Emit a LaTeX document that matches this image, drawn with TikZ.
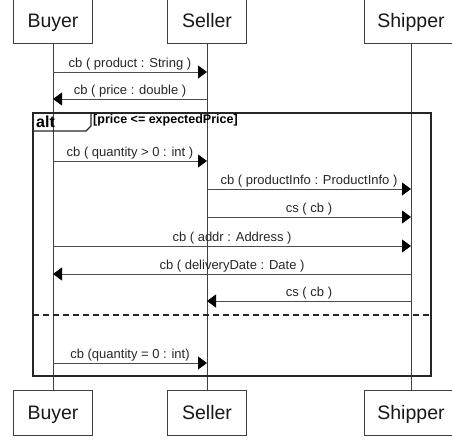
\documentclass[tikz,border=0pt]{standalone}
\usepackage{fontspec}
\setmainfont{Liberation Sans}
\usetikzlibrary{arrows.meta}
\begin{document}
\begin{tikzpicture}[x=1pt,y=-1pt,
  part/.style={draw=black!75, line width=0.8pt, minimum width=79pt, minimum height=44pt, font=\fontsize{19.5}{22}\selectfont, inner sep=0pt, text=black!90, text height=18pt, text depth=4pt},
  life/.style={draw=black!75, line width=0.8pt},
  msg/.style={draw=black!70, line width=0.8pt, -{Triangle[length=9pt,width=13pt,color=black]}},
  lbl/.style={font=\fontsize{13}{15}\selectfont, above, inner sep=1pt, text=black!85},
  frame/.style={draw=black!85, line width=1.8pt}
]
\useasboundingbox (0,0) rectangle (452,441);
% participants
\node[part] (buyerT) at (53,21) {Buyer};
\node[part] (sellerT) at (207,21) {Seller};
\node[part, minimum width=94pt] (shipperT) at (411,21) {Shipper};
\node[part, minimum height=45pt] (buyerB) at (53,412.5) {Buyer};
\node[part, minimum height=45pt] (sellerB) at (207,412.5) {Seller};
\node[part, minimum width=94pt, minimum height=45pt] (shipperB) at (411,412.5) {Shipper};
% lifelines
\draw[life] (buyerT) -- (buyerB);
\draw[life] (sellerT) -- (sellerB);
\draw[life] (shipperT) -- (shipperB);
% alt frame
\draw[frame] (33,113) rectangle (431,376);
\draw[frame, line width=1.4pt] (33,131) -- (86,131) -- (91,126) -- (91,113);
\node[font=\bfseries\fontsize{16}{18}\selectfont, anchor=base west, inner sep=0pt] (altlbl) at (36,128) {alt};
\node[font=\bfseries\fontsize{12.5}{14}\selectfont, anchor=base west, inner sep=0pt] (guard) at (93,124) {[price <= expectedPrice]};
\draw[frame, dashed, dash pattern=on 6pt off 4pt] (33,315) -- (431,315);
% message endpoints
\foreach \n/\y in {1/72,2/99,3/161,4/189,5/217,6/246,7/274,8/301,9/363}{
  \coordinate (b\n) at (53,\y);
  \coordinate (s\n) at (207,\y);
  \coordinate (h\n) at (411,\y);
}
\draw[msg] (b1) -- node[lbl] {cb ( product : String )} (s1);
\draw[msg] (s2) -- node[lbl] {cb ( price : double )} (b2);
\draw[msg] (b3) -- node[lbl] {cb ( quantity > 0 : int )} (s3);
\draw[msg] (s4) -- node[lbl] {cb ( productInfo : ProductInfo )} (h4);
\draw[msg] (s5) -- node[lbl] {cs ( cb )} (h5);
\draw[msg] (b6) -- node[lbl] {cb ( addr : Address )} (h6);
\draw[msg] (h7) -- node[lbl] {cb ( deliveryDate : Date )} (b7);
\draw[msg] (h8) -- node[lbl] {cs ( cb )} (s8);
\draw[msg] (b9) -- node[lbl] {cb (quantity = 0 : int)} (s9);
\end{tikzpicture}
\end{document}
